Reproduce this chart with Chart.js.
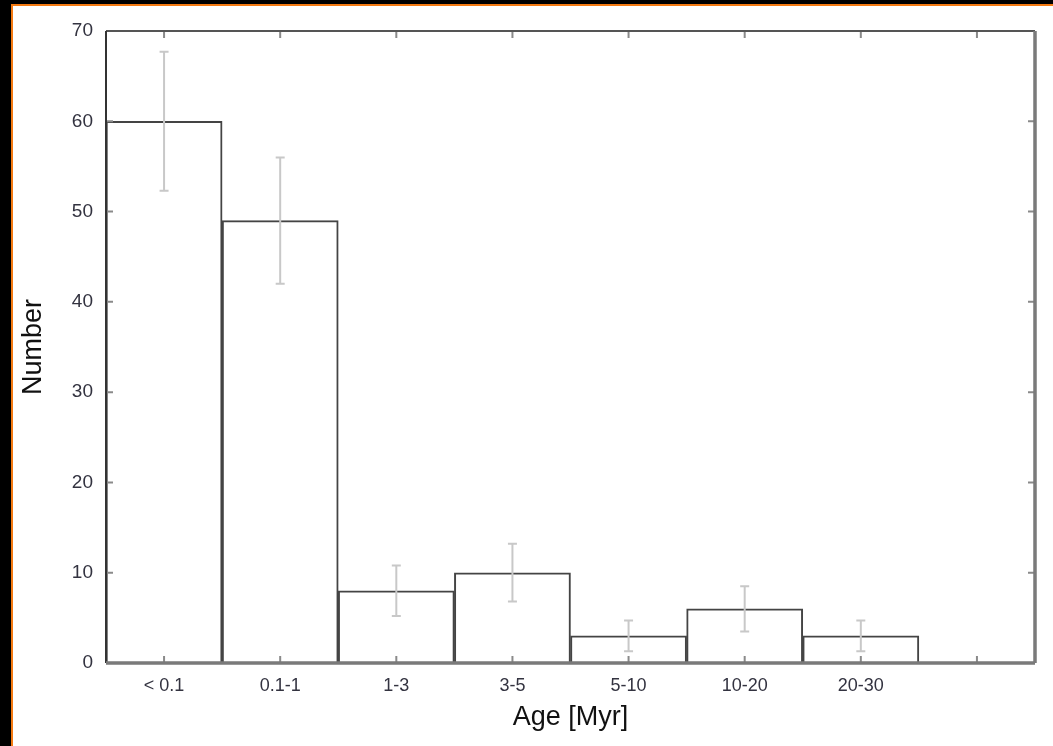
<!DOCTYPE html>
<html lang="en">
<head>
<meta charset="UTF-8">
<title>Age distribution</title>
<style>
  body {
    margin: 0;
    padding: 0;
    background-color: #000;
  }
  .wrap {
    position: relative;
    width: 1053px;
    height: 746px;
  }
</style>
</head>
<body>
<div class="wrap">
  <canvas id="ageChart" width="1053" height="746"></canvas>
</div>
<script src="https://cdn.jsdelivr.net/npm/chart.js"></script>
<script>
  // values
  const ageBins = ['< 0.1', '0.1-1', '1-3', '3-5', '5-10', '10-20', '20-30', ''];
  const counts = [60, 49, 8, 10, 3, 6, 3, null];
  const countErrors = [7.7, 7.0, 2.8, 3.2, 1.7, 2.5, 1.7, null];
  const yTickValues = [0, 10, 20, 30, 40, 50, 60, 70];

  // black page with orange rule top/left, white sheet
  const pageBackground = {
    id: 'pageBackground',
    beforeDraw(chart) {
      const ctx = chart.ctx;
      ctx.save();
      ctx.fillStyle = '#000';
      ctx.fillRect(0, 0, chart.width, chart.height);
      ctx.fillStyle = '#f47a12';
      ctx.fillRect(11, 4, chart.width - 11, chart.height - 4);
      ctx.fillStyle = '#fff';
      ctx.fillRect(13, 6, chart.width - 13, chart.height - 6);
      ctx.restore();
    }
  };

  const errorBars = {
    id: 'errorBars',
    afterDatasetsDraw(chart) {
      const ctx = chart.ctx;
      const x = chart.scales.x, y = chart.scales.y;
      ctx.save();
      ctx.strokeStyle = '#c8c8c8';
      ctx.lineWidth = 2;
      counts.forEach((v, i) => {
        if (v === null) return;
        const px = x.getPixelForValue(i);
        const top = y.getPixelForValue(v + countErrors[i]);
        const bot = y.getPixelForValue(v - countErrors[i]);
        ctx.beginPath();
        ctx.moveTo(px, top); ctx.lineTo(px, bot);
        ctx.moveTo(px - 4.5, top); ctx.lineTo(px + 4.5, top);
        ctx.moveTo(px - 4.5, bot); ctx.lineTo(px + 4.5, bot);
        ctx.stroke();
      });
      ctx.restore();
    }
  };

  // gnuplot-like frame with inward ticks
  const frame = {
    id: 'frame',
    afterDraw(chart) {
      const ctx = chart.ctx;
      const a = chart.chartArea;
      const x = chart.scales.x, y = chart.scales.y;
      ctx.save();
      ctx.lineWidth = 2;
      ctx.strokeStyle = '#8a8a8a';
      yTickValues.forEach(v => {
        const py = y.getPixelForValue(v);
        ctx.beginPath();
        ctx.moveTo(a.left, py); ctx.lineTo(a.left + 7, py);
        ctx.moveTo(a.right, py); ctx.lineTo(a.right - 7, py);
        ctx.stroke();
      });
      ageBins.forEach((b, i) => {
        const px = x.getPixelForValue(i);
        ctx.beginPath();
        ctx.moveTo(px, a.bottom); ctx.lineTo(px, a.bottom - 7);
        ctx.moveTo(px, a.top); ctx.lineTo(px, a.top + 7);
        ctx.stroke();
      });
      ctx.strokeStyle = '#555';
      ctx.beginPath();
      ctx.moveTo(a.left, a.top); ctx.lineTo(a.right, a.top);
      ctx.stroke();
      ctx.strokeStyle = '#333';
      ctx.beginPath();
      ctx.moveTo(a.left, a.top); ctx.lineTo(a.left, a.bottom);
      ctx.stroke();
      ctx.lineWidth = 3.5;
      ctx.strokeStyle = '#7a7a7a';
      ctx.beginPath();
      ctx.moveTo(a.left, a.bottom); ctx.lineTo(a.right, a.bottom);
      ctx.moveTo(a.right, a.top); ctx.lineTo(a.right, a.bottom);
      ctx.stroke();
      ctx.restore();
    }
  };

  Chart.defaults.font.family = '"Liberation Sans", Arial, sans-serif';

  new Chart(document.getElementById('ageChart'), {
    type: 'bar',
    data: {
      labels: ageBins,
      datasets: [{
        label: 'Number',
        data: counts,
        backgroundColor: '#fff',
        borderColor: '#444',
        borderWidth: 2,
        barPercentage: 1,
        categoryPercentage: 1
      }]
    },
    options: {
      responsive: false,
      animation: false,
      layout: { padding: { top: 31, right: 18, left: 0, bottom: 0 } },
      plugins: {
        legend: { display: false },
        tooltip: { enabled: false }
      },
      scales: {
        x: {
          grid: { display: false, drawTicks: false },
          border: { display: false },
          ticks: {
            autoSkip: false,
            maxRotation: 0,
            padding: 12,
            color: '#333340',
            font: { size: 18 }
          },
          title: {
            display: true,
            text: 'Age [Myr]',
            color: '#111',
            font: { size: 27 },
            padding: { top: 0, bottom: 12 }
          },
          afterFit(scale) { scale.height = 83; }
        },
        y: {
          min: 0,
          max: 70,
          grid: { display: false, drawTicks: false },
          border: { display: false },
          afterBuildTicks(scale) {
            scale.ticks = yTickValues.map(v => ({ value: v }));
          },
          ticks: {
            padding: 13,
            color: '#333340',
            font: { size: 19 }
          },
          title: {
            display: true,
            text: 'Number',
            color: '#111',
            font: { size: 27 },
            padding: { top: 17, bottom: 0 }
          },
          afterFit(scale) { scale.width = 106; }
        }
      }
    },
    plugins: [pageBackground, errorBars, frame]
  });
</script>
</body>
</html>
